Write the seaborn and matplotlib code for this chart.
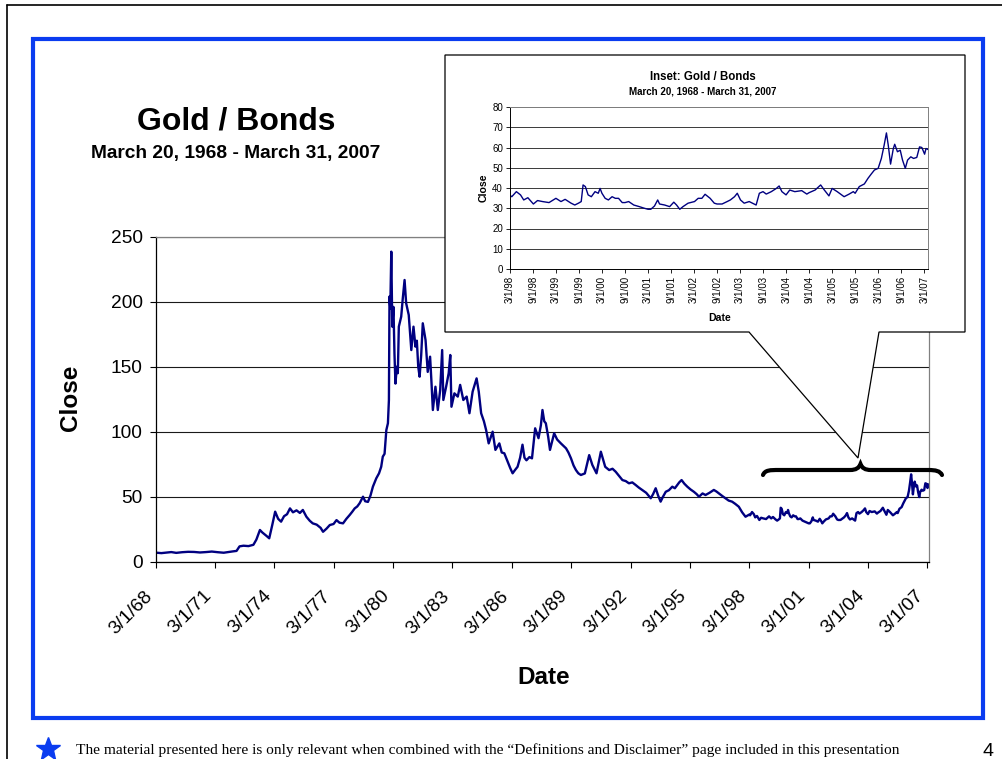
import numpy as np
import pandas as pd
import matplotlib
matplotlib.use("Agg")
import matplotlib.pyplot as plt
from matplotlib.patches import PathPatch, Rectangle
from matplotlib.path import Path
from matplotlib.lines import Line2D
import seaborn as sns

# ---------------------------------------------------------------- data
# Gold / Bonds ratio, decimal-year dates with closing values
years_early = [
    1968.22, 1968.45, 1968.70, 1968.95, 1969.20, 1969.50, 1969.80, 1970.10,
    1970.40, 1970.70, 1971.00, 1971.30, 1971.60, 1971.85, 1972.05, 1972.25,
    1972.40, 1972.60, 1972.85, 1973.10, 1973.25, 1973.43, 1973.55, 1973.75,
    1973.90, 1974.05, 1974.20, 1974.35, 1974.50, 1974.65, 1974.80, 1974.95,
    1975.10, 1975.28, 1975.45, 1975.60, 1975.78, 1975.95, 1976.10, 1976.30,
    1976.50, 1976.62, 1976.80, 1976.96, 1977.15, 1977.30, 1977.45, 1977.63,
    1977.80, 1977.97, 1978.10, 1978.22, 1978.35, 1978.47, 1978.64, 1978.75,
    1978.89, 1979.02, 1979.14, 1979.31, 1979.45, 1979.56, 1979.64, 1979.73,
    1979.82, 1979.90, 1979.95, 1979.98, 1980.02, 1980.07, 1980.12, 1980.18,
    1980.23, 1980.28, 1980.35, 1980.40, 1980.45, 1980.57, 1980.65, 1980.74,
    1980.82, 1980.95, 1981.02, 1981.08, 1981.19, 1981.29, 1981.36, 1981.43,
    1981.50, 1981.58, 1981.66, 1981.80, 1981.91, 1982.03, 1982.10, 1982.17,
    1982.30, 1982.42, 1982.54, 1982.64, 1982.70, 1982.84, 1982.97, 1983.05,
    1983.11, 1983.26, 1983.43, 1983.55, 1983.71, 1983.88, 1984.02, 1984.18,
    1984.38, 1984.49, 1984.61, 1984.75, 1984.86, 1984.99, 1985.19, 1985.33,
    1985.53, 1985.65, 1985.78, 1985.95, 1986.08, 1986.20, 1986.32, 1986.45,
    1986.58, 1986.70, 1986.80, 1986.90, 1987.05, 1987.18, 1987.34, 1987.51,
    1987.63, 1987.71, 1987.80, 1987.88, 1988.00, 1988.09, 1988.30, 1988.45,
    1988.64, 1988.78, 1988.90, 1989.02, 1989.15, 1989.28, 1989.40, 1989.52,
    1989.65, 1989.85, 1990.07, 1990.23, 1990.44, 1990.66, 1990.88, 1991.08,
    1991.25, 1991.41, 1991.58, 1991.75, 1991.92, 1992.08, 1992.25, 1992.42,
    1992.58, 1992.75, 1992.95, 1993.18, 1993.30, 1993.43, 1993.55, 1993.68,
    1993.80, 1993.94, 1994.10, 1994.27, 1994.40, 1994.52, 1994.62, 1994.74,
    1994.88, 1995.03, 1995.20, 1995.36, 1995.50, 1995.62, 1995.80, 1995.95,
    1996.15, 1996.37, 1996.50, 1996.62, 1996.80, 1996.96, 1997.12, 1997.29,
    1997.45, 1997.63, 1997.80, 1997.97, 1998.08,
]
close_early = [
    6.9, 6.6, 7.0, 7.4, 6.8, 7.3, 7.6, 7.5,
    7.1, 7.4, 7.8, 7.3, 6.9, 7.5, 7.9, 8.3,
    11.8, 12.3, 12.0, 13.0, 17.0, 24.4, 22.5, 20.0,
    18.0, 28.0, 38.5, 33.0, 30.8, 35.0, 36.5, 41.0,
    38.0, 39.5, 37.5, 39.8, 34.6, 31.5, 29.5, 28.5,
    26.0, 23.0, 25.5, 28.2, 29.0, 32.0, 30.0, 29.5,
    33.0, 36.0, 38.5, 41.0, 42.5, 45.0, 50.0, 46.5,
    46.0, 51.0, 57.7, 64.1, 68.0, 73.0, 80.8, 83.0,
    101.3, 106.5, 124.4, 204.0, 195.0, 238.5, 180.8, 196.0,
    160.0, 137.0, 150.0, 145.0, 180.8, 188.5, 202.6, 216.7,
    198.8, 189.8, 175.0, 162.8, 180.8, 165.4, 170.0, 150.0,
    142.3, 159.0, 183.4, 170.5, 146.0, 157.7, 138.0, 116.7,
    134.6, 116.7, 132.0, 162.8, 124.4, 134.6, 145.0, 159.0,
    119.2, 129.5, 127.0, 136.0, 124.4, 127.0, 114.2, 130.8,
    141.0, 130.8, 114.2, 108.0, 101.3, 91.0, 100.0, 86.0,
    91.0, 84.0, 83.4, 76.9, 72.0, 68.0, 70.5, 73.0,
    80.0, 90.0, 80.0, 78.0, 80.5, 79.5, 102.6, 95.0,
    105.0, 116.7, 108.0, 106.5, 96.0, 86.0, 98.8, 94.0,
    91.0, 89.0, 87.2, 84.0, 79.5, 74.0, 70.5, 68.0,
    66.7, 67.9, 82.0, 74.4, 68.0, 84.6, 73.0, 70.5,
    71.5, 69.2, 66.0, 62.8, 62.0, 60.3, 61.0, 59.0,
    57.0, 55.2, 53.0, 48.8, 52.0, 56.5, 51.0, 46.2,
    50.0, 53.8, 55.0, 57.7, 56.5, 59.0, 61.0, 62.8,
    60.0, 57.7, 55.5, 53.8, 52.0, 50.0, 52.5, 51.3,
    53.0, 55.2, 54.0, 52.6, 50.5, 48.8, 47.0, 46.2,
    44.5, 42.3, 38.0, 34.6, 35.5,
]
years_recent = [
    1998.167, 1998.20, 1998.30, 1998.39, 1998.46, 1998.55, 1998.67, 1998.76,
    1998.87, 1999.01, 1999.16, 1999.27, 1999.36, 1999.49, 1999.57, 1999.65,
    1999.71, 1999.75, 1999.80, 1999.86, 1999.93, 2000.01, 2000.08, 2000.12,
    2000.16, 2000.23, 2000.30, 2000.38, 2000.45, 2000.52, 2000.60, 2000.66,
    2000.74, 2000.85, 2000.97, 2001.08, 2001.16, 2001.22, 2001.30, 2001.37,
    2001.41, 2001.52, 2001.63, 2001.72, 2001.78, 2001.85, 2001.92, 2002.03,
    2002.17, 2002.25, 2002.33, 2002.40, 2002.51, 2002.60, 2002.66, 2002.77,
    2002.88, 2002.95, 2003.04, 2003.10, 2003.17, 2003.25, 2003.36, 2003.43,
    2003.51, 2003.58, 2003.66, 2003.73, 2003.84, 2003.95, 2004.01, 2004.07,
    2004.16, 2004.24, 2004.35, 2004.50, 2004.61, 2004.66, 2004.79, 2004.91,
    2004.98, 2005.09, 2005.16, 2005.27, 2005.42, 2005.53, 2005.62, 2005.66,
    2005.75, 2005.86, 2005.94, 2006.01, 2006.08, 2006.16, 2006.23, 2006.29,
    2006.34, 2006.38, 2006.43, 2006.49, 2006.52, 2006.58, 2006.64, 2006.69,
    2006.75, 2006.80, 2006.87, 2006.93, 2007.00, 2007.06, 2007.11, 2007.17,
    2007.20, 2007.246,
]
close_recent = [
    36.3, 35.7, 38.2, 36.6, 34.1, 35.2, 32.1, 33.8,
    33.3, 32.8, 34.9, 33.3, 34.4, 32.5, 31.6, 32.5,
    33.3, 41.5, 40.7, 36.6, 35.7, 38.2, 37.4, 39.8,
    37.4, 34.9, 34.1, 35.7, 34.9, 34.9, 32.8, 32.8,
    33.3, 31.6, 30.8, 30.0, 29.5, 29.5, 31.1, 34.1,
    32.1, 31.6, 30.8, 33.0, 31.6, 29.5, 30.8, 32.5,
    33.3, 34.9, 34.9, 36.9, 34.9, 32.5, 32.1, 32.1,
    33.3, 34.1, 35.7, 37.4, 34.1, 32.5, 33.3, 32.5,
    31.6, 37.4, 38.2, 37.0, 38.2, 39.8, 41.0, 38.2,
    36.6, 39.0, 38.2, 38.7, 37.0, 37.7, 39.0, 41.5,
    39.3, 36.1, 39.8, 38.2, 35.7, 37.0, 38.2, 37.4,
    40.7, 42.0, 44.8, 46.9, 48.9, 49.7, 54.6, 61.1,
    67.2, 61.1, 51.8, 59.5, 61.6, 57.9, 58.7, 53.8,
    49.7, 53.8, 55.4, 54.6, 55.1, 60.3, 60.0, 56.7,
    59.5, 59.0,
]

main_tick_labels = ["3/1/68", "3/1/71", "3/1/74", "3/1/77", "3/1/80", "3/1/83",
                    "3/1/86", "3/1/89", "3/1/92", "3/1/95", "3/1/98", "3/1/01",
                    "3/1/04", "3/1/07"]
inset_tick_labels = ["3/1/98", "9/1/98", "3/1/99", "9/1/99", "3/1/00", "9/1/00",
                     "3/1/01", "9/1/01", "3/1/02", "9/1/02", "3/1/03", "9/1/03",
                     "3/1/04", "9/1/04", "3/1/05", "9/1/05", "3/1/06", "9/1/06",
                     "3/1/07"]
main_yticks = [0, 50, 100, 150, 200, 250]
inset_yticks = [0, 10, 20, 30, 40, 50, 60, 70, 80]

title_text = "Gold / Bonds"
subtitle_text = "March 20, 1968 - March 31, 2007"
inset_title_text = "Inset: Gold / Bonds"
footer_text = ("The material presented here is only relevant when combined with the "
               "\u201cDefinitions and Disclaimer\u201d page included in this presentation")
page_number = "4"


# ---------------------------------------------------------------- helpers
def decimal_to_dates(values):
    out = []
    for d in values:
        yr = int(d)
        start = pd.Timestamp(yr, 1, 1)
        length = (pd.Timestamp(yr + 1, 1, 1) - start).days
        out.append(start + pd.Timedelta(days=(d - yr) * length))
    return pd.to_datetime(out)


def label_to_date(label):
    m, d, yy = (int(p) for p in label.split("/"))
    year = 1900 + yy if yy >= 50 else 2000 + yy
    return pd.Timestamp(year, m, d)


W, H = 1003, 759


def fx(px):
    return px / W


def fy(py):
    return 1 - py / H


df = pd.DataFrame({
    "Date": decimal_to_dates(years_early + years_recent),
    "Close": close_early + close_recent,
})
df_inset = df[df["Date"] >= pd.Timestamp(1998, 3, 1)]

NAVY = "#000080"
BLUE = "#0A3CF0"

sns.set_style("white")
plt.rcParams["font.family"] = ["Liberation Sans", "DejaVu Sans"]
plt.rcParams.update({
    "text.color": "black",
    "axes.labelcolor": "black",
    "xtick.color": "black",
    "ytick.color": "black",
    "xtick.labelcolor": "black",
    "ytick.labelcolor": "black",
})

fig = plt.figure(figsize=(W / 100, H / 100), dpi=100)

# ---------------------------------------------------------------- main chart
ax = fig.add_axes([fx(155.7), fy(561.7), (929 - 155.7) / W, (561.7 - 236.7) / H])
ax.set_zorder(0)
sns.lineplot(data=df, x="Date", y="Close", ax=ax, color=NAVY, linewidth=1.7,
             estimator=None, legend=False)
ax.set_xlim(pd.Timestamp(1968, 3, 1), pd.Timestamp(2007, 3, 31))
ax.set_ylim(0, 250)
ax.set_yticks(main_yticks)
ax.set_xticks([label_to_date(t) for t in main_tick_labels])
ax.set_xticklabels(main_tick_labels, rotation=45, ha="right")
ax.grid(axis="y", color="#1a1a1a", linewidth=0.8)
ax.grid(axis="x", visible=False)
ax.tick_params(axis="both", direction="out", length=4.5, width=0.8, color="black",
               labelsize=13.8, labelcolor="black", bottom=True, left=True)
ax.tick_params(axis="x", pad=14)
ax.tick_params(axis="y", pad=5)
for side in ("left", "bottom"):
    ax.spines[side].set_color("black")
    ax.spines[side].set_linewidth(0.9)
for side in ("top", "right"):
    ax.spines[side].set_color("#808080")
    ax.spines[side].set_linewidth(0.9)
ax.set_ylabel("Close", fontsize=17.5, fontweight="bold", va="center", ha="center",
              color="black")
ax.yaxis.set_label_coords((70 - 155.7) / 773.3, (561.7 - 398) / 325)
ax.set_xlabel("Date", fontsize=17.5, fontweight="bold", va="center", ha="center",
              color="black")
ax.xaxis.set_label_coords((544 - 155.7) / 773.3, (561.7 - 678) / 325)

fig.text(fx(236), fy(129.5), title_text, fontsize=23, fontweight="bold",
         ha="center", va="baseline", color="black")
fig.text(fx(236), fy(157.7), subtitle_text, fontsize=13.8, fontweight="bold",
         ha="center", va="baseline", color="black")

# ---------------------------------------------------------------- callout box
callout_px = [(445, 55), (965, 55), (965, 332), (879, 332), (858, 458),
              (749, 332), (445, 332), (445, 55)]
callout_codes = [Path.MOVETO] + [Path.LINETO] * (len(callout_px) - 2) + [Path.CLOSEPOLY]
callout = PathPatch(Path([(fx(x), fy(y)) for x, y in callout_px], callout_codes),
                    transform=fig.transFigure, facecolor="white", edgecolor="black",
                    linewidth=0.9, zorder=2)
fig.add_artist(callout)

# curly brace marking the inset period
brace_px = [(763, 475), (765, 470), (770, 470), (779, 470), (850, 470),
            (856, 470), (859, 468), (860.5, 464), (862, 468), (865, 470),
            (871, 470), (928, 470), (936, 470), (940, 471), (942, 475)]
brace_codes = [Path.MOVETO, Path.CURVE4, Path.CURVE4, Path.CURVE4, Path.LINETO,
               Path.CURVE4, Path.CURVE4, Path.CURVE4, Path.CURVE4, Path.CURVE4,
               Path.CURVE4, Path.LINETO, Path.CURVE4, Path.CURVE4, Path.CURVE4]
brace = PathPatch(Path([(fx(x), fy(y)) for x, y in brace_px], brace_codes),
                  transform=fig.transFigure, facecolor="none", edgecolor="black",
                  linewidth=3, capstyle="round", zorder=3)
fig.add_artist(brace)

# ---------------------------------------------------------------- inset chart
ax_in = fig.add_axes([fx(510), fy(269), (928 - 510) / W, (269 - 107) / H])
ax_in.set_zorder(5)
ax_in.set_facecolor("white")
sns.lineplot(data=df_inset, x="Date", y="Close", ax=ax_in, color=NAVY, linewidth=1.0,
             estimator=None, legend=False)
ax_in.set_xlim(pd.Timestamp(1998, 3, 1), pd.Timestamp(2007, 3, 31))
ax_in.set_ylim(0, 80)
ax_in.set_yticks(inset_yticks)
ax_in.set_xticks([label_to_date(t) for t in inset_tick_labels])
ax_in.set_xticklabels(inset_tick_labels, rotation=90, ha="center", va="top")
ax_in.grid(axis="y", color="#1a1a1a", linewidth=0.6)
ax_in.grid(axis="x", visible=False)
ax_in.tick_params(axis="both", direction="out", length=3, width=0.6, color="black",
                  labelsize=7, labelcolor="black", pad=2, bottom=True, left=True)
for side in ("left", "bottom"):
    ax_in.spines[side].set_color("black")
    ax_in.spines[side].set_linewidth(0.7)
for side in ("top", "right"):
    ax_in.spines[side].set_color("#808080")
    ax_in.spines[side].set_linewidth(0.7)
ax_in.set_ylabel("Close", fontsize=7.6, fontweight="bold", va="center", ha="center",
                 color="black")
ax_in.yaxis.set_label_coords((483.5 - 510) / 418, 0.5)
ax_in.set_xlabel("Date", fontsize=7.6, fontweight="bold", va="center", ha="center",
                 color="black")
ax_in.xaxis.set_label_coords((720 - 510) / 418, (269 - 318) / 162)

fig.text(fx(703), fy(80), inset_title_text, fontsize=8.3, fontweight="bold",
         ha="center", va="baseline", color="black", zorder=6)
fig.text(fx(703), fy(94), subtitle_text, fontsize=7, fontweight="bold",
         ha="center", va="baseline", color="black", zorder=6)

# ---------------------------------------------------------------- page frame
fig.add_artist(Rectangle((fx(33.5), fy(718)), (983 - 33.5) / W, (718 - 39) / H,
                         transform=fig.transFigure, fill=False, edgecolor=BLUE,
                         linewidth=3, zorder=7))
fig.add_artist(Line2D([fx(7), fx(7)], [fy(4.5), 0], transform=fig.transFigure,
                      color="black", linewidth=1.2, zorder=7))
fig.add_artist(Line2D([fx(7), 1], [fy(4.5), fy(4.5)], transform=fig.transFigure,
                      color="black", linewidth=1.2, zorder=7))

fig.add_artist(Line2D([fx(48)], [fy(749)], marker="*", markersize=18, color=BLUE,
                      markeredgecolor=BLUE, transform=fig.transFigure, zorder=7))
fig.text(fx(76), fy(754), footer_text, family=["Liberation Serif", "DejaVu Serif"],
         fontsize=11.1, ha="left", va="baseline", color="black")
fig.text(fx(988), fy(756), page_number, fontsize=14, ha="center", va="baseline",
         color="black")

fig.savefig("out.png", dpi=100)
